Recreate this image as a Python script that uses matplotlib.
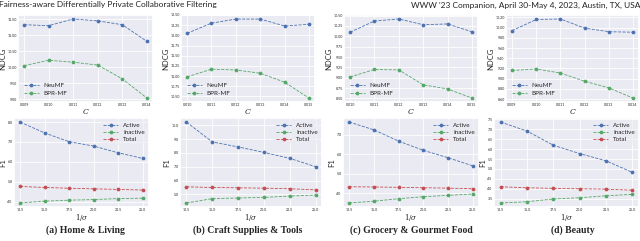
import matplotlib
matplotlib.use('Agg')
import matplotlib.pyplot as plt
import seaborn as sns

# ---------------- data ----------------
c_values = {
    'a': [0.009, 0.010, 0.011, 0.012, 0.013, 0.014],
    'b': [0.010, 0.011, 0.012, 0.013, 0.014, 0.015],
    'c': [0.010, 0.011, 0.012, 0.013, 0.014, 0.015],
    'd': [0.009, 0.010, 0.011, 0.012, 0.013, 0.014],
}
inv_sigma = [12.5, 15.0, 17.5, 20.0, 22.5, 25.0]

neumf = {
    'a': [11.33, 11.30, 11.51, 11.45, 11.33, 10.81],
    'b': [12.05, 12.30, 12.40, 12.40, 12.23, 12.27],
    'c': [10.10, 10.37, 10.42, 10.28, 10.30, 10.11],
    'd': [9.94, 10.16, 10.17, 9.99, 9.92, 9.91],
}
bprmf = {
    'a': [10.05, 10.22, 10.16, 10.07, 9.64, 9.04],
    'b': [10.98, 11.17, 11.15, 11.07, 10.85, 10.46],
    'c': [9.02, 9.20, 9.19, 8.83, 8.73, 8.51],
    'd': [9.16, 9.19, 9.11, 8.95, 8.82, 8.62],
}
ndcg_ticks = {
    'a': [9.0, 9.5, 10.0, 10.5, 11.0, 11.5],
    'b': [10.50, 10.75, 11.00, 11.25, 11.50, 11.75, 12.00, 12.25, 12.50],
    'c': [8.50, 8.75, 9.00, 9.25, 9.50, 9.75, 10.00, 10.25, 10.50],
    'd': [8.6, 8.8, 9.0, 9.2, 9.4, 9.6, 9.8, 10.0, 10.2],
}

active = {
    'a': [8.00, 7.45, 7.01, 6.79, 6.45, 6.17],
    'b': [10.24, 8.80, 8.44, 8.04, 7.61, 7.01],
    'c': [7.64, 7.24, 6.66, 6.19, 5.81, 5.39],
    'd': [7.35, 6.90, 6.19, 5.77, 5.41, 4.83],
}
inactive = {
    'a': [3.93, 4.02, 4.07, 4.10, 4.15, 4.17],
    'b': [4.38, 4.69, 4.74, 4.78, 4.88, 4.95],
    'c': [3.49, 3.58, 3.71, 3.81, 3.88, 3.95],
    'd': [3.30, 3.36, 3.50, 3.56, 3.66, 3.73],
}
total = {
    'a': [4.76, 4.71, 4.67, 4.64, 4.61, 4.58],
    'b': [5.55, 5.50, 5.48, 5.45, 5.41, 5.33],
    'c': [4.32, 4.31, 4.29, 4.27, 4.25, 4.22],
    'd': [4.11, 4.06, 4.03, 4.01, 3.99, 3.94],
}
f1_ticks = {
    'a': [4.0, 5.0, 6.0, 7.0, 8.0],
    'b': [5.0, 6.0, 7.0, 8.0, 9.0, 10.0],
    'c': [4.0, 5.0, 6.0, 7.0],
    'd': [3.5, 4.0, 4.5, 5.0, 5.5, 6.0, 6.5, 7.0, 7.5],
}
captions = {
    'a': '(a) Home & Living',
    'b': '(b) Craft Supplies & Tools',
    'c': '(c) Grocery & Gourmet Food',
    'd': '(d) Beauty',
}

sns.set_theme(style='darkgrid')
plt.rcParams['font.family'] = ['Lato', 'DejaVu Sans']
plt.rcParams['mathtext.fontset'] = 'dejavuserif'

W, H = 640, 241
fig = plt.figure(figsize=(6.4, 2.41), dpi=100)

def box(l, t, r, b):
    return [l / W, 1 - b / H, (r - l) / W, (b - t) / H]

# pixel boxes (left, top, right, bottom)
top_boxes = {'a': (18, 15, 153, 102), 'b': (181, 15, 315, 102),
             'c': (344, 15, 478, 102), 'd': (506, 15, 639, 102)}
bot_boxes = {'a': (14, 118, 149, 207), 'b': (180, 118, 322, 207),
             'c': (343, 118, 479, 207), 'd': (494, 118, 639, 207)}

blue, green, red = '#4c72b0', '#55a868', '#c44e52'
kw = dict(linestyle='--', linewidth=0.6, marker='o', markersize=1.7)

for k in ['a', 'b', 'c', 'd']:
    ax = fig.add_axes(box(*top_boxes[k]))
    ax.plot(c_values[k], neumf[k], color=blue, label='NeuMF', **kw)
    ax.plot(c_values[k], bprmf[k], color=green, label='BPR-MF', **kw)
    ax.set_xticks(c_values[k])
    ax.set_xticklabels(['%.3f' % v for v in c_values[k]])
    ax.set_yticks(ndcg_ticks[k])
    ax.set_yticklabels(['%.2f' % v for v in ndcg_ticks[k]])
    ax.tick_params(labelsize=2.6, pad=1, length=0)
    ax.set_xlabel('$C$', fontsize=5.5, labelpad=0)
    ax.set_ylabel('NDCG', fontsize=5.5, labelpad=1)
    ax.grid(linewidth=0.6)
    ax.legend(loc='lower left', fontsize=4.5, frameon=False, handlelength=2.4,
              borderaxespad=0.5, labelspacing=0.5)

    ax2 = fig.add_axes(box(*bot_boxes[k]))
    ax2.plot(inv_sigma, active[k], color=blue, label='Active', **kw)
    ax2.plot(inv_sigma, inactive[k], color=green, label='Inactive', **kw)
    ax2.plot(inv_sigma, total[k], color=red, label='Total', **kw)
    ax2.set_xticks(inv_sigma)
    ax2.set_xticklabels(['%.1f' % v for v in inv_sigma])
    ax2.set_yticks(f1_ticks[k])
    ax2.set_yticklabels(['%.1f' % v for v in f1_ticks[k]])
    ax2.tick_params(labelsize=2.6, pad=1, length=0)
    ax2.set_xlabel(r'$1/\sigma$', fontsize=5, labelpad=0)
    ax2.set_ylabel('F1', fontsize=5.5, labelpad=1)
    ax2.grid(linewidth=0.6)
    ax2.legend(loc='upper right', fontsize=4.5, frameon=True, handlelength=2.4,
               borderaxespad=0.3, labelspacing=0.3, framealpha=0.5,
               facecolor='#eaeaf2', edgecolor='none')

    cx = (top_boxes[k][0] + top_boxes[k][2]) / 2
    fig.text(cx / W, 1 - 230 / H, captions[k], ha='center', va='center',
             fontsize=7, fontweight='bold', family=['Liberation Serif', 'DejaVu Serif'])

fig.text(-0.002, 1 - 5 / H, 'Fairness-aware Differentially Private Collaborative Filtering',
         ha='left', va='center', fontsize=6, color='#222222')
fig.text(1.0, 1 - 5 / H, "WWW '23 Companion, April 30-May 4, 2023, Austin, TX, USA",
         ha='right', va='center', fontsize=6, color='#222222')

fig.savefig('out.png', dpi=100)
